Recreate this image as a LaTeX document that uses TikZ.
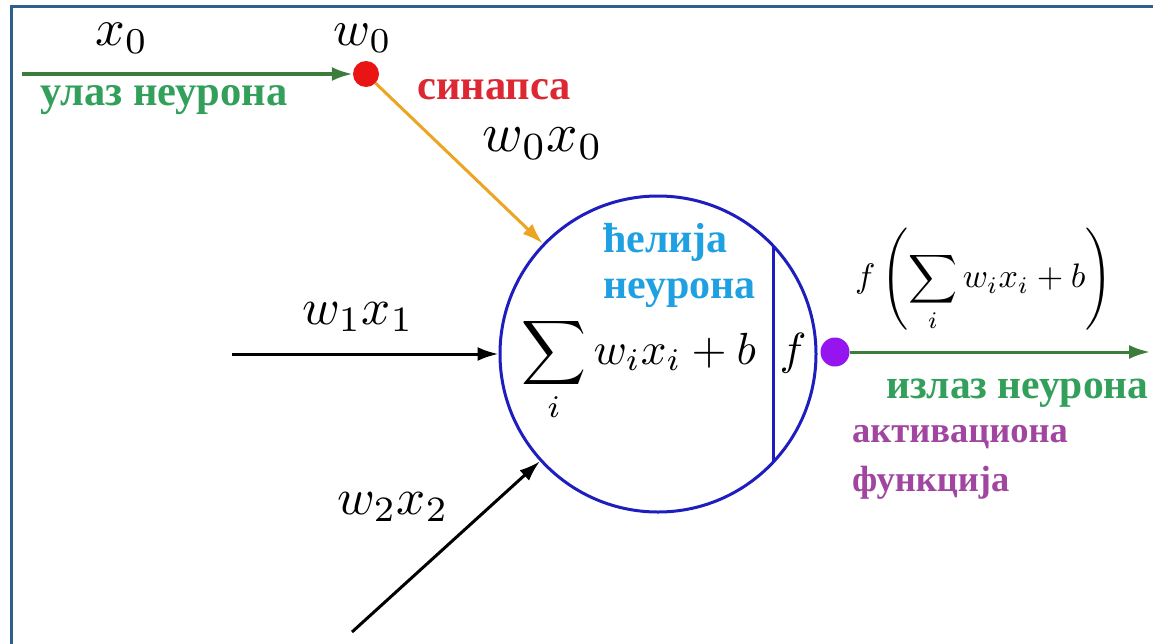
\documentclass[tikz,border=0pt]{standalone}
\usepackage{amsmath}
\usepackage{fontspec}
\usepackage{graphicx}
\setmainfont{Liberation Serif}
\usetikzlibrary{arrows.meta}
\newcommand{\mysc}[2]{\scalebox{#1}{#2}}
\definecolor{framecol}{RGB}{47,95,140}
\definecolor{greenline}{RGB}{60,125,60}
\definecolor{greentext}{RGB}{50,160,90}
\definecolor{dotred}{RGB}{235,20,20}
\definecolor{synred}{RGB}{220,40,50}
\definecolor{synorange}{RGB}{235,165,35}
\definecolor{cellblue}{RGB}{30,30,190}
\definecolor{cellcyan}{RGB}{30,160,225}
\definecolor{dotpurple}{RGB}{150,20,240}
\definecolor{actpurple}{RGB}{160,70,160}
\begin{document}
\begin{tikzpicture}[x=1pt,y=-1pt,
  mathlab/.style={inner sep=0pt},
  cyrlab/.style={inner sep=0pt,anchor=west,align=left,font=\rmfamily\bfseries\fontsize{42.5}{46}\selectfont},
  arrowtip/.style={-{Latex[length=21pt,width=14pt]}},
  blackarrow/.style={arrowtip,line width=3pt,black},
  greenarrow/.style={arrowtip,line width=3.5pt,greenline},
  orangearrow/.style={arrowtip,line width=3pt,synorange},
  dotnode/.style={circle,inner sep=0pt}]
\useasboundingbox (0,0) rectangle (1153,643);
\clip (0,0) rectangle (1153,643);
\fill[white] (0,0) rectangle (1153,643);
\draw[framecol,line width=3pt] (11,660) -- (11,6) -- (1170,6);

% cell
\node[circle,draw=cellblue,line width=3pt,minimum size=316pt,inner sep=0pt] (cell) at (658,354) {};
\draw[cellblue,line width=3pt] ([xshift=115pt,yshift=108pt]cell.center) -- ([xshift=115pt,yshift=-108pt]cell.center);

% dots
\node[dotnode,fill=dotred,minimum size=26pt] (syn) at (366,74) {};
\node[dotnode,fill=dotpurple,minimum size=29pt] (act) at (835,352) {};

% connectors
\coordinate (xin) at (22,74);
\coordinate (w1in) at (232,354);
\coordinate (w2in) at (352,632);
\coordinate (out) at (1150,352);
\draw[greenarrow] (xin) -- (syn);
\draw[orangearrow] (syn) -- (cell);
\draw[blackarrow] (w1in) -- (cell);
\draw[blackarrow] (w2in) -- (cell);
\draw[greenarrow,line width=3pt] (act) -- (out);

% math labels
\node[mathlab] (lx0) at (122,38) {\mysc{5.2}{$x_0$}};
\node[mathlab] (lw0) at (363,38) {\mysc{5}{$w_0$}};
\node[mathlab] (lw0x0) at (543,144) {\mysc{5.5}{$w_0x_0$}};
\node[mathlab] (lw1x1) at (358,317) {\mysc{5.1}{$w_1x_1$}};
\node[mathlab] (lw2x2) at (393,507) {\mysc{5.1}{$w_2x_2$}};
\node[inner sep=0pt,anchor=base west] (lsum) at (521,364) {\mysc{4.5}{$\displaystyle\sum_i w_i x_i + b$}};
\node[inner sep=0pt,anchor=base] (lf) at (793,364) {\mysc{4.5}{$f$}};
\node[inner sep=0pt,anchor=west] (lout) at (855,280) {\mysc{3.4}{$f\left(\displaystyle\sum_i w_i x_i + b\right)$}};

% cyrillic labels
\node[cyrlab,text=greentext] (tin) at (40,100) {улаз неурона};
\node[cyrlab,text=synred] (tsyn) at (417,90) {синапса};
\node[cyrlab,text=cellcyan,font=\rmfamily\bfseries\fontsize{42}{46}\selectfont] (tcell) at (603,265) {ћелија\\неурона};
\node[cyrlab,text=greentext,font=\rmfamily\bfseries\fontsize{41.5}{46}\selectfont] (tout) at (886,393) {излаз неурона};
\node[cyrlab,text=actpurple,font=\rmfamily\bfseries\fontsize{36.5}{49}\selectfont] (tact) at (852,462) {активациона\\функција};
\end{tikzpicture}
\end{document}
